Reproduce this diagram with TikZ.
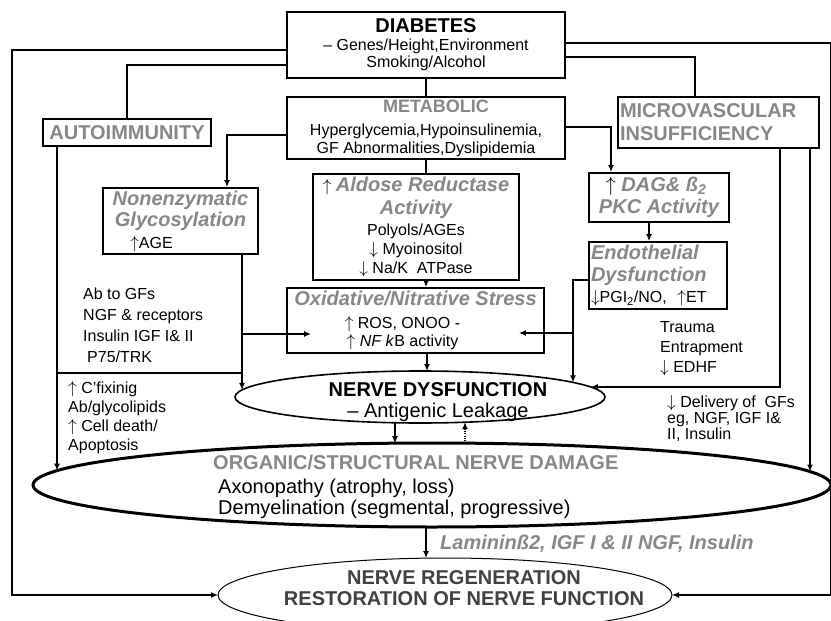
\documentclass[tikz,border=0pt]{standalone}
\usepackage{fontspec}
\usepackage{graphicx}
\setmainfont{Liberation Sans}
\usetikzlibrary{arrows.meta,shapes.geometric}
\definecolor{hgray}{RGB}{135,135,135}
\definecolor{rgray}{RGB}{65,65,65}
\newcommand{\myfs}[2]{\fontsize{#1}{#2}\selectfont}
\newcommand{\myhd}{\color{hgray}\bfseries}
\newcommand{\myhdi}{\myfs{20}{21}\color{hgray}\bfseries\itshape}
\newcommand{\myua}{\ensuremath{\uparrow}}
\newcommand{\myda}{\ensuremath{\downarrow}}
\begin{document}
\begin{tikzpicture}[x=1pt,y=-1pt,
  box/.style={draw, line width=1.8pt, inner sep=0pt, align=center},
  conn/.style={line width=1.8pt},
  arr/.style={conn, -{Latex[length=7pt,width=6pt]}},
  ladder/.style={line width=2.6pt, dash pattern=on 1pt off 1.2pt, -{Latex[length=7pt,width=6pt]}},
  txt/.style={inner sep=0pt, align=left}]
\useasboundingbox (0,0) rectangle (831,621);
\clip (0,0) rectangle (831,621);
\fill[white] (0,0) rectangle (831,621);

% boxes
\node[box, minimum width=278pt, minimum height=66pt, font=\myfs{16}{17}] (dia) at (426,45)
  {{\myfs{20}{17}\bfseries DIABETES}\\[1pt]– Genes/Height,Environment\\Smoking/Alcohol};
\node[box, minimum width=278pt, minimum height=62pt, font=\myfs{16}{18}] (met) at (426,128)
  {\rule{20pt}{0pt}{\myfs{18}{18}\myhd METABOLIC}\\[5pt]Hyperglycemia,Hypoinsulinemia,\\GF Abnormalities,Dyslipidemia};
\node[box, minimum width=168pt, minimum height=27pt, font=\myfs{20}{22}\bfseries, text=hgray] (auto) at (127,132.5) {AUTOIMMUNITY};
\node[box, minimum width=201pt, minimum height=51pt, text width=197pt, align=left, font=\myfs{20}{23}\bfseries, text=hgray] (micro) at (718.5,122.5)
  {MICROVASCULAR\\INSUFFICIENCY};
\node[box, minimum width=155pt, minimum height=66pt, font=\myfs{16}{21}] (nonenz) at (180.5,221)
  {{\myhdi Nonenzymatic}\\{\myhdi Glycosylation}\\[1pt]\myua AGE\rule{58pt}{0pt}};
\node[box, minimum width=206pt, minimum height=106pt, font=\myfs{16}{19}] (ald) at (416,227)
  {\myua\ {\myhdi Aldose Reductase}\\[4pt]{\myhdi Activity}\\[2pt]Polyols/AGEs\\\myda\ Myoinositol\\\myda\ Na/K\ \ ATPase};
\node[box, minimum width=257pt, minimum height=65pt, font=\myfs{16}{18.5}] (oxid) at (415.5,320.5)
  {{\myhdi Oxidative/Nitrative Stress}\\[4.5pt]\myua\ ROS, ONOO -\rule{26pt}{0pt}\\\myua\ \textit{NF k}B activity\rule{26pt}{0pt}};
\node[box, minimum width=140pt, minimum height=49pt, font=\myfs{20}{22}] (dag) at (659,197.5)
  {\myua\ {\myhdi DAG\& ß\textsubscript{2}}\rule{6pt}{0pt}\\{\myhdi PKC Activity}};
\node[box, minimum width=138pt, minimum height=67pt, text width=134pt, align=left, font=\myfs{16}{21}] (endo) at (658,275.5)
  {{\myhdi Endothelial}\\[1pt]{\myhdi Dysfunction}\\\myda PGI\textsubscript{2}/NO,\ \ \myua ET};

% ellipses
\node[ellipse, draw, line width=1.6pt, minimum width=370pt, minimum height=52pt, inner sep=0pt, outer sep=0pt] (nd) at (420,397) {};
\node[ellipse, draw, line width=3pt, minimum width=798pt, minimum height=84pt, inner sep=0pt, outer sep=0pt] (org) at (432,485) {};
\node[ellipse, draw, line width=1pt, minimum width=454pt, minimum height=74pt, inner sep=0pt, outer sep=0pt] (regen) at (445,595) {};

\node[inner sep=0pt, anchor=north, align=center, font=\myfs{20}{21}] (ndt) at (438,382)
  {\textbf{NERVE DYSFUNCTION}\\– Antigenic Leakage};
\node[inner sep=0pt, anchor=north west, align=left, font=\myfs{20}{21}] (orgt) at (213,455)
  {{\myhd ORGANIC/STRUCTURAL NERVE DAMAGE}\\[3pt]\rule{5pt}{0pt}Axonopathy (atrophy, loss)\\\rule{5pt}{0pt}Demyelination (segmental, progressive)};
\node[inner sep=0pt, anchor=north, align=center, font=\myfs{20}{21}\bfseries, text=rgray] (regt) at (464,570)
  {NERVE REGENERATION\\RESTORATION OF NERVE FUNCTION};
\node[inner sep=0pt, anchor=west, font=\myfs{20}{22}\bfseries\itshape, text=hgray] (lam) at (440,544)
  {Lamininß2, IGF I \& II NGF, Insulin};

% free texts
\node[txt, anchor=north west, font=\myfs{16}{21}] (abt) at (83,288)
  {Ab to GFs\\NGF \& receptors\\Insulin IGF I\& II\\\rule{4pt}{0pt}P75/TRK};
\node[txt, anchor=north west, font=\myfs{16}{19}] (cft) at (68,381)
  {\myua\ C’fixinig\\Ab/glycolipids\\\myua\ Cell death/\\Apoptosis};
\node[txt, anchor=north west, font=\myfs{16}{20}] (trt) at (660,321)
  {Trauma\\Entrapment\\\myda\ EDHF};
\node[txt, anchor=north west, font=\myfs{16}{16}] (delt) at (667,395)
  {\myda\ Delivery of\ \ GFs\\eg, NGF, IGF I\&\\II, Insulin};

% landing points on the ellipse borders
\coordinate (ndA) at ([shift={(-178,-7.1)}]nd.center);
\coordinate (ndB) at ([shift={(153,-14.6)}]nd.center);
\coordinate (ndC) at ([shift={(170.8,-10)}]nd.center);
\coordinate (ndD) at ([shift={(7,-26)}]nd.center);
\coordinate (ndE) at ([shift={(-25,25.8)}]nd.center);
\coordinate (ndF) at ([shift={(45,25.2)}]nd.center);
\coordinate (orgA) at ([shift={(-375,-14.4)}]org.center);
\coordinate (orgB) at ([shift={(378,-13.5)}]org.center);
\coordinate (orgC) at ([shift={(-37,-41.8)}]org.center);
\coordinate (orgD) at ([shift={(33,-41.9)}]org.center);
\coordinate (orgE) at ([shift={(-6,42)}]org.center);
\coordinate (regA) at ([shift={(-19,-36.9)}]regen.center);
\coordinate (cL) at (12,0);
\coordinate (cR) at (831,0);

% connectors
\draw[arr] ([yshift=-5pt]dia.west) -| (cL |- regen.west) -- (regen.west);
\draw[conn] ([yshift=-20pt]dia.west) -| (auto.north);
\draw[arr] ([yshift=2pt]dia.east) -| (cR |- regen.east) -- (regen.east);
\draw[conn] ([yshift=-12pt]dia.east) -| ([xshift=-23.5pt]micro.north);
\draw[conn] (dia.south) -- (met.north);
\draw[arr] ([yshift=-7pt]met.west) -| ([xshift=46.5pt]nonenz.north);
\draw[arr] ([yshift=1pt]met.east) -| ([xshift=-48pt]dag.north);
\draw[conn] (met.south) -- (met.south |- ald.north);
\draw[arr] (ald.south -| met.south) -- (oxid.north -| met.south);
\draw[arr] ([xshift=-10pt]dag.south) -- ([xshift=-10pt]dag.south |- endo.north);
\draw[arr] (oxid.south -| ndD) -- (ndD);
\draw[arr] (nonenz.south -| ndA) -- (ndA);
\draw[arr] (ndA |- 0,334) -- ([xshift=25pt]oxid.west |- 0,334);
\draw[arr] ([yshift=-4.5pt]endo.west) -| (ndB);
\draw[arr] (ndB |- 0,333) -- ([xshift=-26pt]oxid.east |- 0,333);
\draw[arr] ([xshift=61.5pt]micro.south) |- (ndC);
\draw[arr] (micro.south -| orgB) -- (orgB);
\draw[arr] (auto.south -| orgA) -- (orgA);
\draw[conn] (orgA |- 0,373) -- (ndA |- 0,373);
\draw[arr] (ndE) -- (orgC);
\draw[ladder] (orgD) -- (ndF);
\draw[arr] (orgE) -- (regA);
\end{tikzpicture}
\end{document}
